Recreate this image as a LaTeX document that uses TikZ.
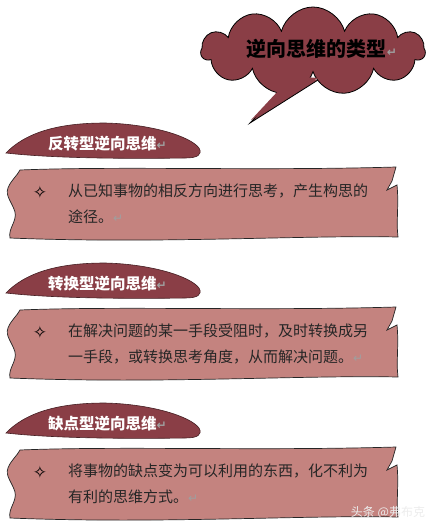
\documentclass[tikz,border=0pt]{standalone}
\usepackage{fontspec}
\setmainfont{Noto Sans CJK SC}
\newfontfamily\symfont{DejaVu Sans}
\usetikzlibrary{shapes.symbols}
\definecolor{wine}{RGB}{138,62,70}
\definecolor{rose}{RGB}{196,131,127}
\newcommand{\retmark}{{\symfont\color{gray!75}\fontsize{12}{12}\selectfont ↵}}
\begin{document}
\begin{tikzpicture}[x=1pt,y=-1pt,
    every node/.append style={inner sep=0pt},
    dome/.style={fill=wine,draw=wine!50!black,line width=0.6pt},
    notebox/.style={fill=rose,draw=black!85,line width=0.7pt},
    headtext/.style={text=white,anchor=west,font=\fontsize{15.5}{18}\selectfont\bfseries},
    bodytext/.style={anchor=north west,align=left,text=black!85,font=\fontsize{15}{26}\selectfont},
    bullet/.style={font=\symfont\fontsize{17}{17}\selectfont}]
    \useasboundingbox (0,0) rectangle (433,528);
    % cloud with its tail
    \draw[fill=wine,line width=0.8pt] (292,78) -- (250,123) -- (318,80);
    \node[cloud,cloud puffs=11,aspect=2.6,fill=wine,draw=black,line width=0.8pt,
        minimum width=224pt,minimum height=88pt] (cloud) at (313,51) {};
    \fill[wine] (292,76) -- (251,120) -- (318,78) -- cycle;
    \node[font=\fontsize{20}{24}\selectfont\bfseries] (title) at (322,49) {逆向思维的类型\retmark};
    % the three sections
    \foreach \dy in {0,140,280} {
        \begin{scope}[shift={(0,\dy)}]
            \path[dome] (6,153) .. controls (30,128) and (70,123) .. (105,123)
                .. controls (150,124) and (190,136) .. (199,148)
                .. controls (203,155) and (197,158) .. (185,158)
                .. controls (120,159) and (50,158) .. (6,153) -- cycle;
            \path[notebox] (20,170) .. controls (120,166) and (260,171) .. (396,167)
                -- (392,181) -- (387,190) -- (397,185)
                .. controls (399,205) and (396,222) .. (398,237)
                .. controls (300,235) and (160,244) .. (10,238)
                .. controls (8,228) and (17,222) .. (15,212)
                .. controls (12,202) and (5,196) .. (8,188)
                .. controls (11,180) and (17,176) .. (20,170) -- cycle;
        \end{scope}
    }
    \node[headtext] (head1) at (48,144) {反转型逆向思维\retmark};
    \node[bullet] (star1) at (40,192) {✧};
    \node[bodytext] (body1) at (68,184) {从已知事物的相反方向进行思考，产生构思的\\途径。\retmark};
    \node[headtext] (head2) at (48,284) {转换型逆向思维\retmark};
    \node[bullet] (star2) at (40,332) {✧};
    \node[bodytext] (body2) at (68,324) {在解决问题的某一手段受阻时，及时转换成另\\一手段，或转换思考角度，从而解决问题。\retmark};
    \node[headtext] (head3) at (48,424) {缺点型逆向思维\retmark};
    \node[bullet] (star3) at (40,472) {✧};
    \node[bodytext] (body3) at (68,464) {将事物的缺点变为可以利用的东西，化不利为\\有利的思维方式。\retmark};
    \node[text=white!85!gray,font=\fontsize{12}{12}\selectfont] (mark) at (388,512) {头条 @弗布克};
\end{tikzpicture}
\end{document}
